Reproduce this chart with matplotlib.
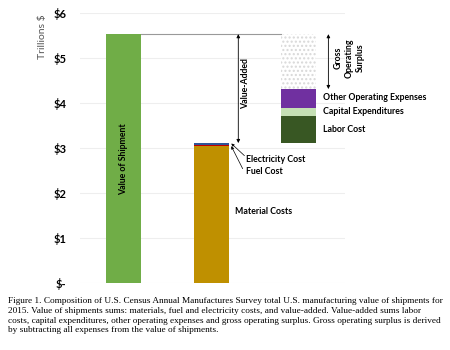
import matplotlib.pyplot as plt

# values in trillions of dollars (2015)
shipment = 5.53
material = 3.04
fuel = 0.03
electricity = 0.04
labor = 0.61
capital = 0.18
other_opex = 0.41
surplus = shipment - (material + fuel + electricity) - labor - capital - other_opex

tick_vals = [0, 1, 2, 3, 4, 5, 6]
tick_labels = ["$-", "$1", "$2", "$3", "$4", "$5", "$6"]

c_ship = "#70AD47"
c_mat = "#BF9000"
c_fuel = "#C00000"
c_elec = "#2F5597"
c_labor = "#385723"
c_cap = "#C5E0B4"
c_other = "#7030A0"

plt.rcParams["hatch.color"] = "#d0d0d0"
lab = dict(family=["Lato", "DejaVu Sans"], fontweight="bold", fontsize=6.3)

fig = plt.figure(figsize=(4.5, 3.5), dpi=100)
ax = fig.add_axes([80 / 450, 1 - 283 / 350, 265 / 450, 270 / 350])
w = 0.4

# bar 1: value of shipments
ax.bar(0, shipment, w, color=c_ship, zorder=2)

# bar 2: materials, fuel, electricity
base = 0
for v, c in [(material, c_mat), (fuel, c_fuel), (electricity, c_elec)]:
    ax.bar(1, v, w, bottom=base, color=c, zorder=2)
    base += v
va_base = base

# bar 3: value added pieces
b = va_base
for v, c in [(labor, c_labor), (capital, c_cap), (other_opex, c_other)]:
    ax.bar(2, v, w, bottom=b, color=c, zorder=2)
    b += v
ax.bar(2, surplus, w, bottom=b, color="white", hatch="....", edgecolor="#d8d8d8", linewidth=0, zorder=2)
top_other = b

ax.set_xlim(-0.5, 2.53)
ax.set_ylim(0, 6)
ax.set_yticks(tick_vals)
ax.set_yticklabels(tick_labels, fontweight="bold", fontsize=8, family=["Lato", "DejaVu Sans"])
ax.set_xticks([])
ax.tick_params(axis="y", length=0, pad=10)
for s in ax.spines.values():
    s.set_visible(False)
ax.grid(axis="y", color="#eeeeee", linewidth=0.8, zorder=0)

# line across the top
ax.plot([w / 2, 2 - w / 2], [shipment, shipment], color="#999999", lw=0.8, zorder=3)

# value added arrow
ax.annotate("", xy=(1.31, shipment), xytext=(1.31, va_base),
            arrowprops=dict(arrowstyle="<|-|>", color="black", lw=0.6, mutation_scale=5, shrinkA=0, shrinkB=0))
ax.text(1.39, 4.44, "Value-Added", rotation=90, ha="center", va="center", **lab)

# gross operating surplus arrow
ax.annotate("", xy=(2.34, shipment), xytext=(2.34, top_other),
            arrowprops=dict(arrowstyle="<|-|>", color="black", lw=0.6, mutation_scale=5, shrinkA=0, shrinkB=0))
ax.text(2.58, 5.0, "Gross\nOperating\nSurplus", rotation=90, ha="center", va="center",
        linespacing=1.25, clip_on=False, **lab)

ax.text(0, 2.75, "Value of Shipment", rotation=90, ha="center", va="center", **lab)

# small arrows for electricity and fuel
ax.annotate("", xy=(1.23, va_base - 0.01), xytext=(1.38, va_base - 0.28),
            arrowprops=dict(arrowstyle="-|>", color="black", lw=0.5, mutation_scale=4, shrinkA=0, shrinkB=0))
ax.annotate("", xy=(1.23, va_base - 0.07), xytext=(1.36, va_base - 0.57),
            arrowprops=dict(arrowstyle="-|>", color="black", lw=0.5, mutation_scale=4, shrinkA=0, shrinkB=0))
ax.text(1.4, va_base - 0.36, "Electricity Cost", va="center", clip_on=False, **lab)
ax.text(1.4, va_base - 0.63, "Fuel Cost", va="center", clip_on=False, **lab)
ax.text(1.27, 1.58, "Material Costs", va="center", clip_on=False, **lab)

ax.text(2.28, 4.13, "Other Operating Expenses", va="center", clip_on=False, **lab)
ax.text(2.28, 3.8, "Capital Expenditures", va="center", clip_on=False, **lab)
ax.text(2.28, 3.42, "Labor Cost", va="center", clip_on=False, **lab)

fig.text(42 / 450, 1 - 37 / 350, "Trillions $", rotation=90, fontsize=7.5, color="#555555",
         ha="center", va="center", family=["Lato", "DejaVu Sans"])

caption = ("Figure 1. Composition of U.S. Census Annual Manufactures Survey total U.S. manufacturing value of shipments for\n"
           "2015. Value of shipments sums: materials, fuel and electricity costs, and value-added. Value-added sums labor\n"
           "costs, capital expenditures, other operating expenses and gross operating surplus. Gross operating surplus is derived\n"
           "by subtracting all expenses from the value of shipments.")
fig.text(8 / 450, 1 - 297 / 350, caption, fontsize=6.7, family="Liberation Serif", ha="left", va="top", linespacing=1.3)

fig.savefig("out.png", dpi=100)
